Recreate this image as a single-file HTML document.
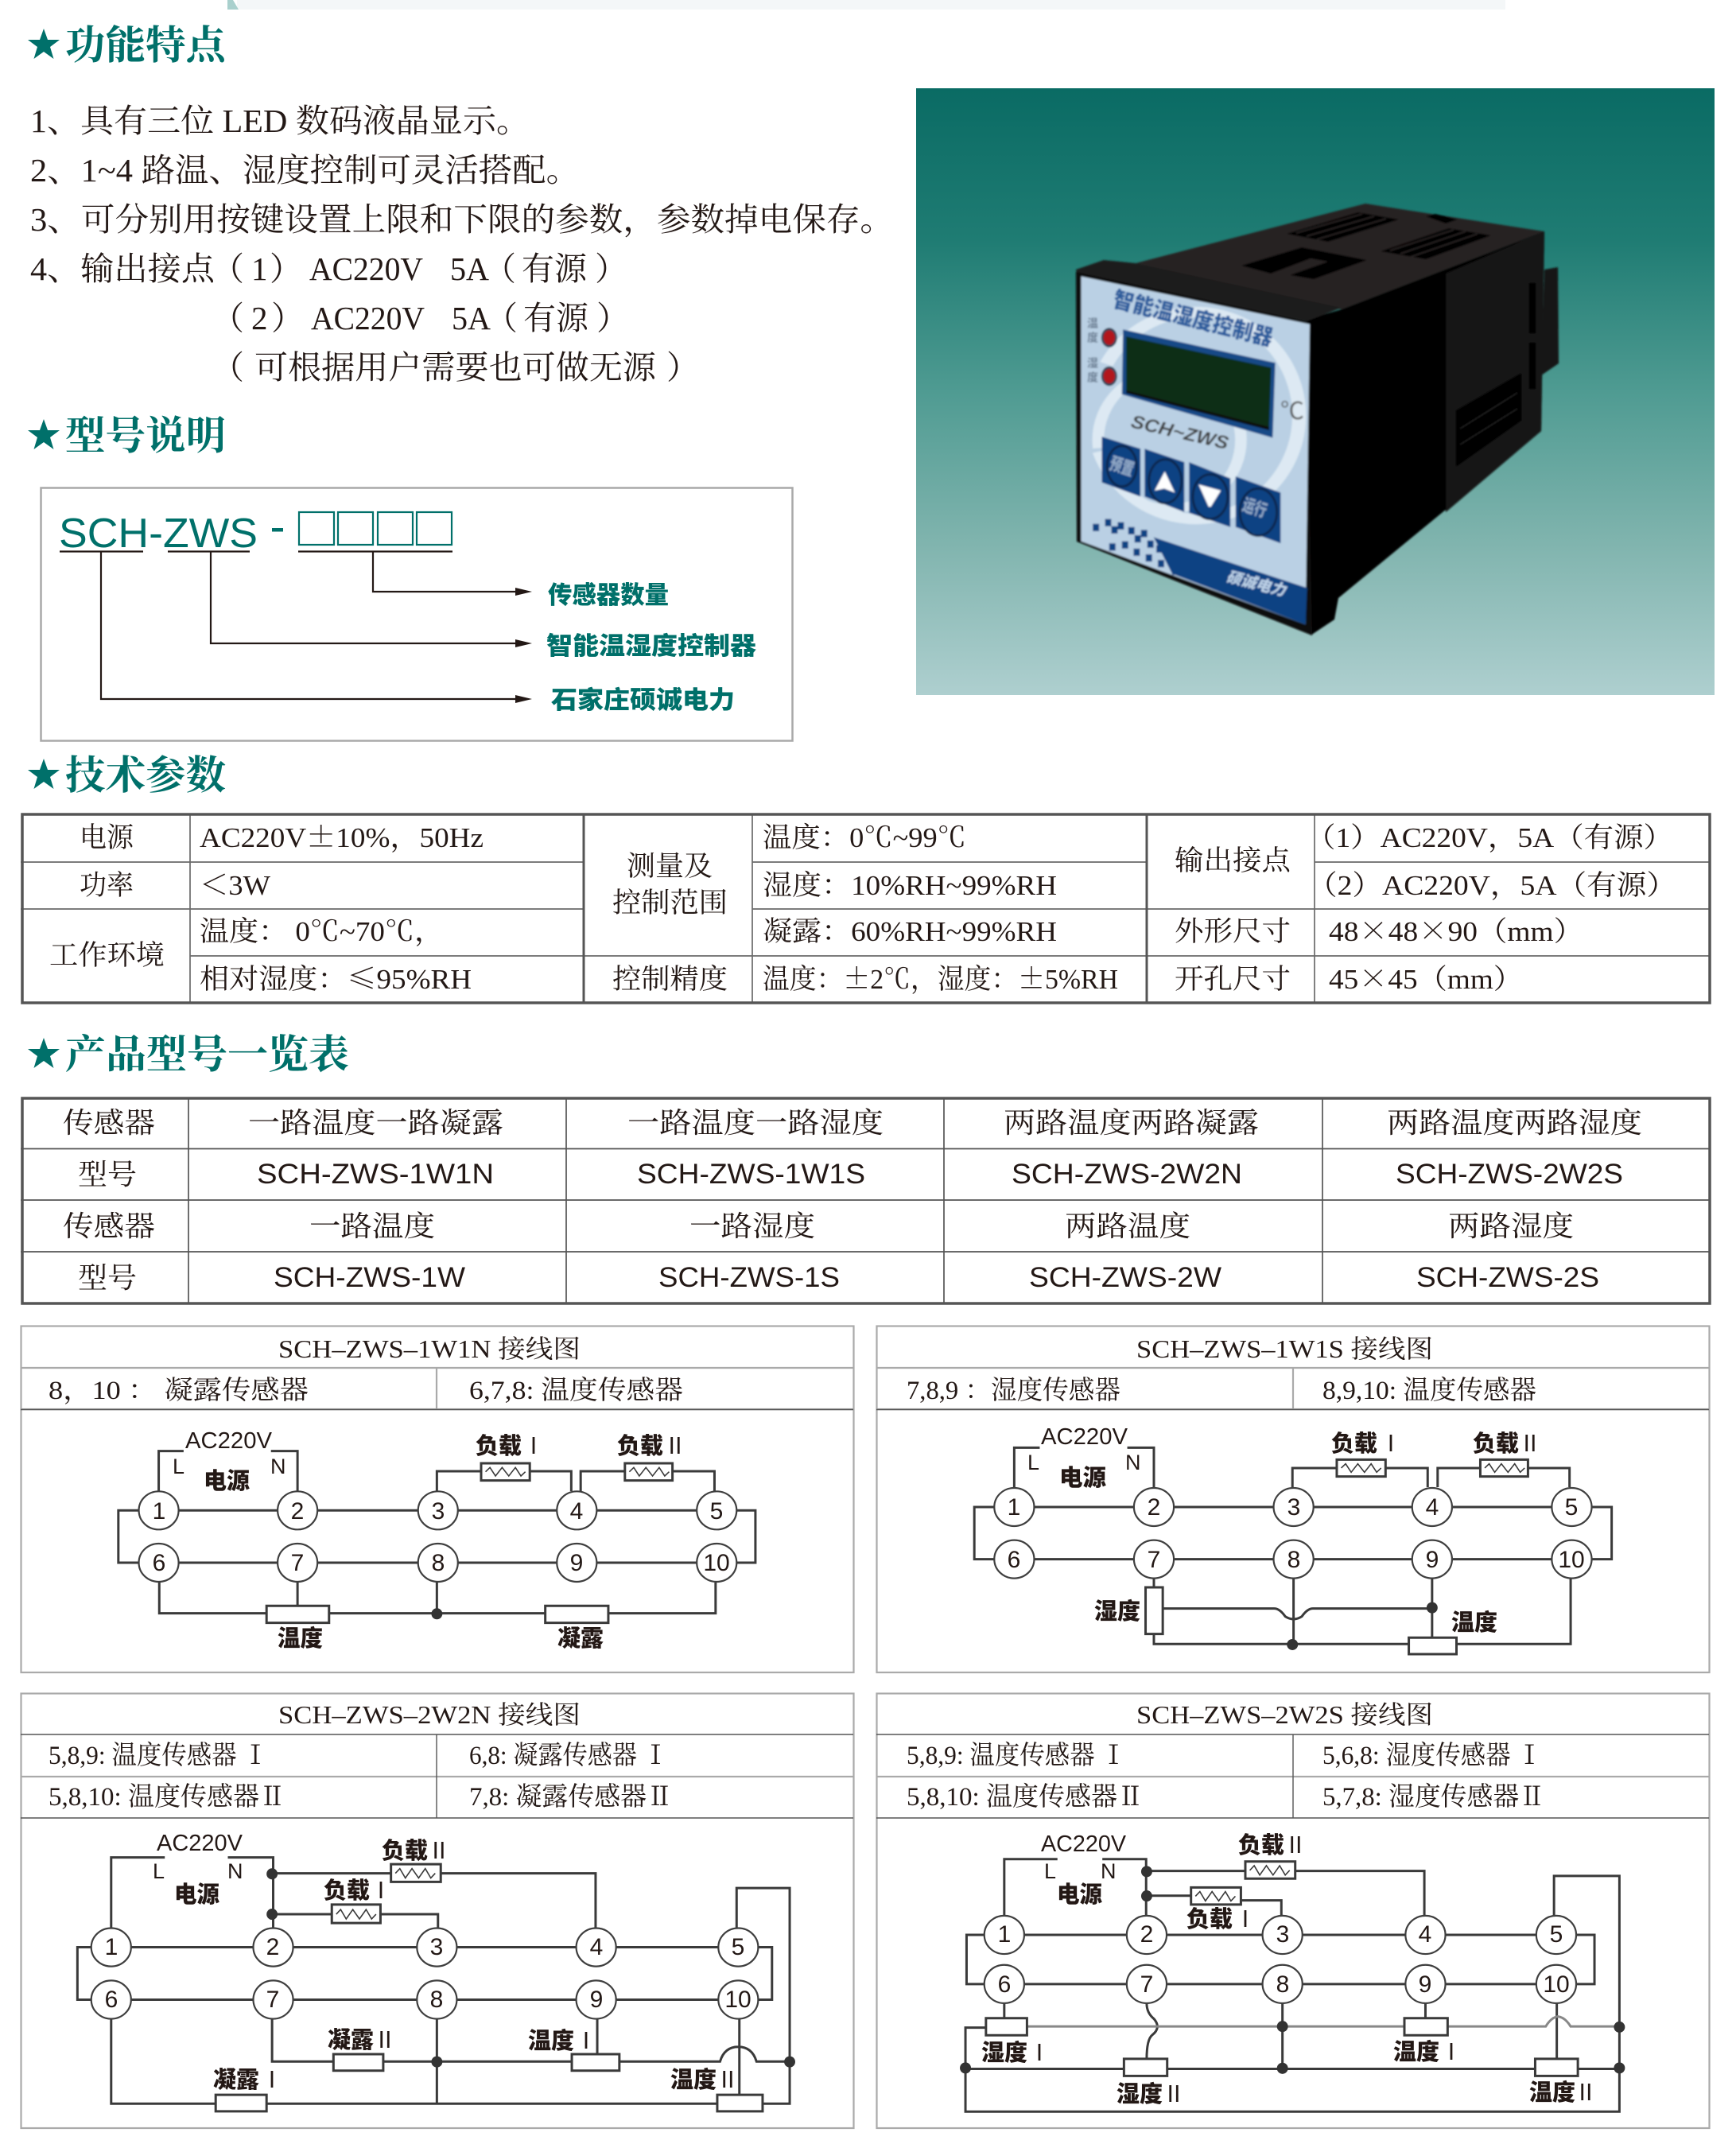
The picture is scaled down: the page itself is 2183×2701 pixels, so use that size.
<!DOCTYPE html>
<html lang="zh"><head><meta charset="utf-8"><title>SCH-ZWS</title>
<style>
html,body{margin:0;padding:0;background:#fff}
svg{display:block}
.s{font-family:"Liberation Serif","Noto Serif CJK SC",serif;fill:#231815}
.c{font-family:"Noto Serif CJK SC","Liberation Serif",serif}
.h{font-family:"Noto Serif CJK SC","Liberation Serif",serif;font-weight:700;fill:#00706a;font-size:50px}
.l{font-family:"Liberation Sans","Noto Sans CJK SC",sans-serif;fill:#231815}
.b{font-family:"Noto Sans CJK SC","Liberation Sans",sans-serif;font-weight:900;fill:#231815;font-size:29px}
.r{font-family:"Noto Sans CJK SC","Liberation Sans",sans-serif;font-weight:400;fill:#231815;font-size:29px;text-anchor:middle}
.g{font-family:"Noto Sans CJK SC","Liberation Sans",sans-serif;font-weight:900;fill:#00706a;font-size:31px}
.t{font-size:35px}.u{font-size:36px}.m{font-size:41px}.n{font-size:33px}.v{font-size:32px}
.w *{vector-effect:non-scaling-stroke}
.w path,.w polyline,.w line{fill:none;stroke:#3a3a3a;stroke-width:3}
.w rect{fill:#fff;stroke:#3a3a3a;stroke-width:3}
.w ellipse.o{fill:#fff;stroke:#3f3f3f;stroke-width:2.2}
.w ellipse.d{fill:#333;stroke:none}
.d{font-size:30px;text-anchor:middle}
</style></head><body>
<svg xmlns="http://www.w3.org/2000/svg" width="2183" height="2701" viewBox="0 0 2183 2701">
<defs>
<linearGradient id="bg" x1="0" y1="0" x2="0" y2="1"><stop offset="0" stop-color="#0a6b64"/><stop offset=".25" stop-color="#1f7c73"/><stop offset=".5" stop-color="#4f9b92"/><stop offset=".75" stop-color="#80b4ae"/><stop offset="1" stop-color="#aecfcf"/></linearGradient>
<filter id="bl" x="-5%" y="-5%" width="110%" height="110%"><feGaussianBlur stdDeviation="1.1"/></filter>
<polyline id="z" points="8,0 16,-16 26,16 38,-16 50,16 62,-16 72,16 80,0" style="stroke-width:1.6;fill:none;stroke:#3a3a3a" vector-effect="non-scaling-stroke"/>
<polygon id="st" points="0,-20 5,-6 20,-6 8,3 12.500,18 0,9 -12.500,18 -8,3 -20,-6 -5,-6" fill="#00706a"/>
</defs>
<rect width="2183" height="2701" fill="#fff"/>
<!-- top bar -->
<rect x="298" y="0" width="1595" height="12" fill="#f4f7f8"/>
<polygon points="286,0 293,0 300,12 286,12" fill="#a9d0cd"/>

<!-- headings -->
<use href="#st" x="55" y="56"/><text class="h" x="82" y="74" textLength="202" lengthAdjust="spacingAndGlyphs">功能特点</text>
<use href="#st" x="55" y="547"/><text class="h" x="82" y="565" textLength="202" lengthAdjust="spacingAndGlyphs">型号说明</text>
<use href="#st" x="55" y="974"/><text class="h" x="82" y="992" textLength="202" lengthAdjust="spacingAndGlyphs">技术参数</text>
<use href="#st" x="55" y="1325"/><text class="h" x="82" y="1343" textLength="357" lengthAdjust="spacingAndGlyphs">产品型号一览表</text>

<!-- feature list -->
<g class="s m">
<text x="38" y="166" textLength="628" lengthAdjust="spacingAndGlyphs">1、具有三位 LED 数码液晶显示。</text>
<text x="38" y="228" textLength="691" lengthAdjust="spacingAndGlyphs">2、1~4 路温、湿度控制可灵活搭配。</text>
<text x="38" y="290" textLength="1086" lengthAdjust="spacingAndGlyphs">3、可分别用按键设置上限和下限的参数，参数掉电保存。</text>
<text x="38" y="352" textLength="232" lengthAdjust="spacingAndGlyphs">4、输出接点</text>
<text x="266" y="352">（</text><text x="316" y="352">1</text><text x="339" y="352">）</text>
<text x="389" y="352" textLength="143" lengthAdjust="spacingAndGlyphs">AC220V</text>
<text x="566" y="352" textLength="49" lengthAdjust="spacingAndGlyphs">5A</text>
<text x="608" y="352">（</text><text x="656" y="352" textLength="82" lengthAdjust="spacingAndGlyphs">有源</text><text x="748" y="352">）</text>
<text x="266" y="414">（</text><text x="316" y="414">2</text><text x="341" y="414">）</text>
<text x="391" y="414" textLength="143" lengthAdjust="spacingAndGlyphs">AC220V</text>
<text x="568" y="414" textLength="49" lengthAdjust="spacingAndGlyphs">5A</text>
<text x="610" y="414">（</text><text x="658" y="414" textLength="82" lengthAdjust="spacingAndGlyphs">有源</text><text x="750" y="414">）</text>
<text x="266" y="476">（</text><text x="320" y="476" textLength="505" lengthAdjust="spacingAndGlyphs">可根据用户需要也可做无源</text><text x="838" y="476">）</text>
</g>

<!-- model box -->
<rect x="51.500" y="613.500" width="945" height="318" fill="#fff" stroke="#a9a9a9" stroke-width="2.500"/>
<text class="l" x="74" y="688" font-size="52" textLength="250" lengthAdjust="spacingAndGlyphs" style="fill:#00706a">SCH-ZWS</text>
<rect x="342" y="664" width="14" height="4.500" fill="#00706a"/>
<g fill="none" stroke="#00706a" stroke-width="2.200"><rect x="376" y="644" width="44" height="41"/><rect x="425" y="644" width="44" height="41"/><rect x="475" y="644" width="44" height="41"/><rect x="524" y="644" width="44" height="41"/></g>
<g fill="none" stroke="#231815" stroke-width="2.200">
<path d="M75 693.500H180M211 693.500H314M375 693.500H569"/>
<path d="M127 693V879H650M265 693V809H650M469 693V744H650"/>
</g>
<g fill="#231815"><polygon points="648,739 669,744 648,749"/><polygon points="648,804 669,809 648,814"/><polygon points="648,874 669,879 648,884"/></g>
<text class="g" x="689" y="759" textLength="152" lengthAdjust="spacingAndGlyphs">传感器数量</text>
<text class="g" x="687" y="823" textLength="264" lengthAdjust="spacingAndGlyphs">智能温湿度控制器</text>
<text class="g" x="693" y="891" textLength="231" lengthAdjust="spacingAndGlyphs">石家庄硕诚电力</text>

<!-- photo -->
<rect x="1152" y="111" width="1004" height="763" fill="url(#bg)"/>
<g filter="url(#bl)" transform="translate(-2,-1)">
<!-- body in real coordinates -->
<polygon points="1944,340 1961,337 1962,458 1940,473" fill="#161616"/>
<polygon points="1430,332 1719,257 1944,292 1689,390" fill="#272323"/>
<polygon points="1689,390 1944,292 1940,543 1685,753 1680,780 1650,800 1645,403" fill="#060404"/>
<polygon points="1820,345 1944,292 1940,543 1820,645" fill="#121212"/>
<polygon points="1833,517 1915,470 1915,530 1833,588" fill="#050505"/>
<path d="M1838,540 1910,495M1838,560 1910,515" stroke="#2a2a2a" stroke-width="1" fill="none"/>
<path d="M1929,357V420M1929,432V490" stroke="#000" stroke-width="8" fill="none"/>
<polygon points="1355,340 1390,328 1430,332 1689,388 1645,405 1356,345" fill="#1c1a1a"/>
<polygon points="1355,343 1645,405 1652,800 1356,682" fill="#0a0a0a"/>
<!-- top grates -->
<polygon points="1620,295 1710,268 1761,277 1672,305" fill="#060505"/>
<polygon points="1738,317 1824,288 1877,297 1795,327" fill="#060505"/>
<polygon points="1563,335 1639,312 1721,328 1654,352 1624,347 1672,330 1650,326 1600,345" fill="#060505"/>
<polygon points="1795,273 1807,270 1835,277 1820,282" fill="#060505"/>
<path d="M1632,294 1715,270M1645,298 1730,273M1658,302 1745,276M1750,316 1830,290M1763,320 1845,292M1776,324 1860,295" stroke="#2b2727" stroke-width="1.500" fill="none"/>
<g transform="translate(1140,100) scale(.6653,.5102)">
<polygon points="333,487 765,605 757,1345 333,1140" fill="#bad0e4"/>
<polygon points="470,1130 760,1255 757,1345 505,1220" fill="#0f4383"/>
<!-- swirl -->
<ellipse cx="550" cy="830" rx="195" ry="255" fill="none" stroke="#dde9f3" stroke-width="26" stroke-dasharray="620 220"/>
<ellipse cx="500" cy="890" rx="135" ry="170" fill="none" stroke="#dde9f3" stroke-width="22" stroke-dasharray="300 160"/>
<!-- LCD -->
<polygon points="412,618 700,700 695,885 410,778" fill="#164a87"/>
<polygon points="418,635 692,712 688,866 418,768" fill="#0f2e17"/>
<polygon points="418,768 688,858 688,866 418,775" fill="#0b0b0b"/>
<!-- LEDs -->
<ellipse cx="386" cy="638" rx="15" ry="24" fill="#2b3f55"/><ellipse cx="386" cy="638" rx="11" ry="18" fill="#b2161a"/>
<ellipse cx="386" cy="733" rx="15" ry="24" fill="#2b3f55"/><ellipse cx="386" cy="733" rx="11" ry="18" fill="#b2161a"/>
<!-- buttons -->
<polygon points="372,882 445,912 445,1030 372,995" fill="#0f4383"/>
<polygon points="453,912 528,945 528,1068 453,1030" fill="#0f4383"/>
<polygon points="537,945 615,985 615,1105 537,1070" fill="#0f4383"/>
<polygon points="625,980 710,1020 710,1145 625,1105" fill="#0f4383"/>
<ellipse cx="410" cy="955" rx="28" ry="50" fill="none" stroke="#08264e" stroke-width="3" vector-effect="non-scaling-stroke"/>
<ellipse cx="492" cy="992" rx="31" ry="54" fill="none" stroke="#08264e" stroke-width="3" vector-effect="non-scaling-stroke"/>
<ellipse cx="577" cy="1030" rx="33" ry="55" fill="none" stroke="#08264e" stroke-width="3" vector-effect="non-scaling-stroke"/>
<ellipse cx="668" cy="1068" rx="35" ry="58" fill="none" stroke="#08264e" stroke-width="3" vector-effect="non-scaling-stroke"/>
<polygon points="491,968 510,1020 490,1010 472,1015" fill="#fff"/>
<polygon points="555,1000 597,1015 578,1055 574,1055" fill="#fff"/>
<!-- checker -->
<g fill="#0f4383"><rect x="355" y="1097" width="12" height="18"/><rect x="378" y="1085" width="12" height="18"/><rect x="390" y="1103" width="12" height="18"/><rect x="402" y="1093" width="12" height="18"/><rect x="422" y="1105" width="12" height="18"/><rect x="434" y="1125" width="12" height="18"/><rect x="446" y="1112" width="12" height="18"/><rect x="458" y="1138" width="12" height="18"/><rect x="475" y="1150" width="12" height="18"/><rect x="490" y="1165" width="12" height="18"/><rect x="386" y="1145" width="12" height="18"/><rect x="410" y="1140" width="12" height="18"/><rect x="432" y="1158" width="12" height="18"/><rect x="455" y="1172" width="12" height="18"/><rect x="478" y="1186" width="12" height="18"/><rect x="505" y="1205" width="12" height="18"/></g>
</g>
<text class="b" transform="translate(1400,386) rotate(14)" textLength="206" lengthAdjust="spacingAndGlyphs" style="fill:#2a5c9c;font-size:28px">智能温湿度控制器</text>
<text class="l" transform="translate(1423,538) rotate(13)" font-size="23" font-style="italic" font-weight="700" textLength="125" lengthAdjust="spacingAndGlyphs" style="fill:#3c3c3c">SCH~ZWS</text>
<text class="l" x="1612" y="528" font-size="30" style="fill:#555">℃</text>
<text class="b" transform="translate(1543,732) rotate(14)" font-style="italic" textLength="76" lengthAdjust="spacingAndGlyphs" style="fill:#bcd0e6;font-size:19px">硕诚电力</text>
<text class="b" transform="translate(1396,590) rotate(18) scale(.8,1.15)" style="fill:#8fa6c4;font-size:19px">预置</text>
<text class="b" transform="translate(1563,642) rotate(18) scale(.8,1.15)" style="fill:#8fa6c4;font-size:19px">运行</text>
<text class="b" x="1376" y="400" style="writing-mode:vertical-rl;fill:#66798f;font-weight:700;font-size:14px;letter-spacing:4px">温度</text>
<text class="b" x="1376" y="450" style="writing-mode:vertical-rl;fill:#66798f;font-weight:700;font-size:14px;letter-spacing:4px">湿度</text>
</g>

<!-- table 1 -->
<g fill="none" stroke="#6a6a6a" stroke-width="1.700">
<path d="M26 1084H734M26 1143H734M239 1202H734M946 1084H1442M946 1143H2150M734 1202H2150M1653 1084H2150M239 1024V1261M946 1024V1261M1653 1024V1261"/>
</g>
<rect x="28" y="1024" width="2122" height="237" fill="none" stroke="#555" stroke-width="3.500"/>
<path d="M734 1024V1261M1442 1024V1261" stroke="#555" stroke-width="3" fill="none"/>
<g class="s t">
<text x="100" y="1065" textLength="68" lengthAdjust="spacingAndGlyphs">电源</text>
<text x="100" y="1125" textLength="68" lengthAdjust="spacingAndGlyphs">功率</text>
<text x="62" y="1213" textLength="145" lengthAdjust="spacingAndGlyphs">工作环境</text>
<text x="251" y="1065" textLength="357" lengthAdjust="spacingAndGlyphs">AC220V<tspan class="c">±</tspan>10%，50Hz</text>
<text x="251" y="1125" textLength="89" lengthAdjust="spacingAndGlyphs"><tspan class="c">＜</tspan>3W</text>
<text x="251" y="1183" textLength="307" lengthAdjust="spacingAndGlyphs">温度： 0℃~70℃，</text>
<text x="251" y="1243" textLength="342" lengthAdjust="spacingAndGlyphs">相对湿度：<tspan class="c">≤</tspan>95%RH</text>
<text x="788" y="1101" textLength="108" lengthAdjust="spacingAndGlyphs">测量及</text>
<text x="770" y="1147" textLength="145" lengthAdjust="spacingAndGlyphs">控制范围</text>
<text x="770" y="1243" textLength="145" lengthAdjust="spacingAndGlyphs">控制精度</text>
<text x="959" y="1065" textLength="256" lengthAdjust="spacingAndGlyphs">温度：0℃~99℃</text>
<text x="959" y="1125" textLength="370" lengthAdjust="spacingAndGlyphs">湿度：10%RH~99%RH</text>
<text x="959" y="1183" textLength="370" lengthAdjust="spacingAndGlyphs">凝露：60%RH~99%RH</text>
<text x="959" y="1243" textLength="447" lengthAdjust="spacingAndGlyphs">温度：<tspan class="c">±</tspan>2℃，湿度：<tspan class="c">±</tspan>5%RH</text>
<text x="1477" y="1094" textLength="146" lengthAdjust="spacingAndGlyphs">输出接点</text>
<text x="1642" y="1065" textLength="462" lengthAdjust="spacingAndGlyphs">（1）AC220V，5A（有源）</text>
<text x="1644" y="1125" textLength="464" lengthAdjust="spacingAndGlyphs">（2）AC220V，5A（有源）</text>
<text x="1477" y="1183" textLength="146" lengthAdjust="spacingAndGlyphs">外形尺寸</text>
<text x="1671" y="1183" textLength="320" lengthAdjust="spacingAndGlyphs">48<tspan class="c">×</tspan>48<tspan class="c">×</tspan>90（mm）</text>
<text x="1477" y="1243" textLength="146" lengthAdjust="spacingAndGlyphs">开孔尺寸</text>
<text x="1671" y="1243" textLength="244" lengthAdjust="spacingAndGlyphs">45<tspan class="c">×</tspan>45（mm）</text>
</g>

<!-- table 2 -->
<g fill="none" stroke="#555" stroke-width="1.700">
<path d="M26 1444.500H2150M26 1509H2150M26 1574H2150M237 1380V1639M712 1380V1639M1187 1380V1639M1663 1380V1639"/>
</g>
<rect x="28" y="1381" width="2122" height="258" fill="none" stroke="#555" stroke-width="3.500"/>
<g class="s u">
<text x="79" y="1424" textLength="116" lengthAdjust="spacingAndGlyphs">传感器</text>
<text x="312" y="1424" textLength="321" lengthAdjust="spacingAndGlyphs">一路温度一路凝露</text>
<text x="789" y="1424" textLength="322" lengthAdjust="spacingAndGlyphs">一路温度一路湿度</text>
<text x="1262" y="1424" textLength="321" lengthAdjust="spacingAndGlyphs">两路温度两路凝露</text>
<text x="1744" y="1424" textLength="321" lengthAdjust="spacingAndGlyphs">两路温度两路湿度</text>
<text x="98" y="1489" textLength="74" lengthAdjust="spacingAndGlyphs">型号</text>
<text x="79" y="1554" textLength="116" lengthAdjust="spacingAndGlyphs">传感器</text>
<text x="389" y="1554" textLength="158" lengthAdjust="spacingAndGlyphs">一路温度</text>
<text x="867" y="1554" textLength="158" lengthAdjust="spacingAndGlyphs">一路湿度</text>
<text x="1339" y="1554" textLength="158" lengthAdjust="spacingAndGlyphs">两路温度</text>
<text x="1821" y="1554" textLength="158" lengthAdjust="spacingAndGlyphs">两路湿度</text>
<text x="98" y="1619" textLength="74" lengthAdjust="spacingAndGlyphs">型号</text>
</g>
<g class="l" font-size="35">
<text x="323" y="1488" textLength="298" lengthAdjust="spacingAndGlyphs">SCH-ZWS-1W1N</text>
<text x="801" y="1488" textLength="287" lengthAdjust="spacingAndGlyphs">SCH-ZWS-1W1S</text>
<text x="1272" y="1488" textLength="290" lengthAdjust="spacingAndGlyphs">SCH-ZWS-2W2N</text>
<text x="1755" y="1488" textLength="286" lengthAdjust="spacingAndGlyphs">SCH-ZWS-2W2S</text>
<text x="344" y="1618" textLength="241" lengthAdjust="spacingAndGlyphs">SCH-ZWS-1W</text>
<text x="828" y="1618" textLength="228" lengthAdjust="spacingAndGlyphs">SCH-ZWS-1S</text>
<text x="1294" y="1618" textLength="242" lengthAdjust="spacingAndGlyphs">SCH-ZWS-2W</text>
<text x="1781" y="1618" textLength="230" lengthAdjust="spacingAndGlyphs">SCH-ZWS-2S</text>
</g>

<!-- frames diagram 1,2 -->
<g fill="none" stroke="#aaa" stroke-width="2.200">
<rect x="26.500" y="1667.500" width="1047" height="435.500"/>
<rect x="1102.500" y="1667.500" width="1047" height="435.500"/>
<rect x="26.500" y="2129.500" width="1047" height="546.500"/>
<rect x="1102.500" y="2129.500" width="1047" height="546.500"/>
<path d="M26 1720H1073M26 1772H1073M1102 1720H2149M1102 1772H2149M549 1720V1772M1626 1720V1772M26 2234H1073M1102 2234H2149"/>
</g>
<g fill="none" stroke="#555" stroke-width="1.400">
<path d="M26 1772.500H1073M1102 1772.500H2149M26 2181H1073M1102 2181H2149M26 2286H1073M1102 2286H2149M549 2181V2286M1626 2181V2286"/>
</g>

<!-- diagram texts -->
<g class="s v">
<text x="350" y="1707" textLength="380" lengthAdjust="spacingAndGlyphs">SCH–ZWS–1W1N 接线图</text>
<text x="1429" y="1707" textLength="373" lengthAdjust="spacingAndGlyphs">SCH–ZWS–1W1S 接线图</text>
<text x="350" y="2167" textLength="380" lengthAdjust="spacingAndGlyphs">SCH–ZWS–2W2N 接线图</text>
<text x="1429" y="2167" textLength="373" lengthAdjust="spacingAndGlyphs">SCH–ZWS–2W2S 接线图</text>
</g>
<g class="s n">
<text x="61" y="1759" textLength="327" lengthAdjust="spacingAndGlyphs">8，10 ： 凝露传感器</text>
<text x="590" y="1759" textLength="269" lengthAdjust="spacingAndGlyphs">6,7,8: 温度传感器</text>
<text x="1140" y="1759" textLength="269" lengthAdjust="spacingAndGlyphs">7,8,9 ：湿度传感器</text>
<text x="1663" y="1759" textLength="269" lengthAdjust="spacingAndGlyphs">8,9,10: 温度传感器</text>
<text x="61" y="2218" textLength="276" lengthAdjust="spacingAndGlyphs">5,8,9: 温度传感器 Ⅰ</text>
<text x="590" y="2218" textLength="250" lengthAdjust="spacingAndGlyphs">6,8: 凝露传感器 Ⅰ</text>
<text x="61" y="2270" textLength="298" lengthAdjust="spacingAndGlyphs">5,8,10: 温度传感器Ⅱ</text>
<text x="590" y="2270" textLength="256" lengthAdjust="spacingAndGlyphs">7,8: 凝露传感器Ⅱ</text>
<text x="1140" y="2218" textLength="276" lengthAdjust="spacingAndGlyphs">5,8,9: 温度传感器 Ⅰ</text>
<text x="1663" y="2218" textLength="276" lengthAdjust="spacingAndGlyphs">5,6,8: 湿度传感器 Ⅰ</text>
<text x="1140" y="2270" textLength="298" lengthAdjust="spacingAndGlyphs">5,8,10: 温度传感器Ⅱ</text>
<text x="1663" y="2270" textLength="280" lengthAdjust="spacingAndGlyphs">5,7,8: 湿度传感器Ⅱ</text>
</g>

<!-- D1 wiring -->
<g class="w" transform="translate(0,1660) scale(.6954,.3333)">
<path d="M287 645V494H332M490 494H538V645"/>
<path d="M214 718H1366V915H214ZM790 645V570H1033V645M1050 645V570H1292V645"/>
<path d="M288 990V1106H1294V990M538 990V1078M790 990V1106"/>
<rect x="870" y="540" width="88" height="65"/><use href="#z" x="870" y="572"/>
<rect x="1130" y="540" width="86" height="65"/><use href="#z" x="1130" y="572"/>
<rect x="482" y="1078" width="113" height="64"/><rect x="986" y="1078" width="114" height="64"/>
<ellipse class="d" cx="790" cy="1108" rx="10" ry="21"/>
<ellipse class="o" cx="287" cy="718" rx="36" ry="72"/><ellipse class="o" cx="538" cy="718" rx="36" ry="72"/><ellipse class="o" cx="792" cy="718" rx="36" ry="72"/><ellipse class="o" cx="1043" cy="718" rx="36" ry="72"/><ellipse class="o" cx="1296" cy="718" rx="36" ry="72"/>
<ellipse class="o" cx="287" cy="915" rx="36" ry="72"/><ellipse class="o" cx="538" cy="915" rx="36" ry="72"/><ellipse class="o" cx="792" cy="915" rx="36" ry="72"/><ellipse class="o" cx="1043" cy="915" rx="36" ry="72"/><ellipse class="o" cx="1296" cy="915" rx="36" ry="72"/>
</g>
<g class="l d">
<text x="200" y="1910">1</text><text x="374" y="1910">2</text><text x="551" y="1910">3</text><text x="725" y="1910">4</text><text x="901" y="1910">5</text>
<text x="200" y="1975">6</text><text x="374" y="1975">7</text><text x="551" y="1975">8</text><text x="725" y="1975">9</text><text x="901" y="1975">10</text>
</g>
<text class="l" x="233" y="1821" font-size="29" textLength="109" lengthAdjust="spacingAndGlyphs">AC220V</text>
<text class="l" x="217" y="1853" font-size="27">L</text><text class="l" x="340" y="1853" font-size="27">N</text>
<text class="b" x="256" y="1872" textLength="58" lengthAdjust="spacingAndGlyphs">电源</text>
<text class="b" x="598" y="1828" textLength="58" lengthAdjust="spacingAndGlyphs">负载</text><text class="r" x="671" y="1828">Ⅰ</text>
<text class="b" x="776" y="1828" textLength="58" lengthAdjust="spacingAndGlyphs">负载</text><text class="r" x="849" y="1828">Ⅱ</text>
<text class="b" x="349" y="2070" textLength="57" lengthAdjust="spacingAndGlyphs">温度</text>
<text class="b" x="701" y="2070" textLength="58" lengthAdjust="spacingAndGlyphs">凝露</text>

<!-- D2 wiring -->
<g class="w" transform="translate(1090,1660) scale(.6969,.3333)">
<path d="M266 630V481H312M470 481H518V630"/>
<path d="M194 705H1344V902H194ZM768 630V558H1012V630M1030 630V558H1268V630"/>
<path d="M518 975V1008M518 1184V1222H978M1064 1222H1270V975M770 975V1222M1020 975V1198"/>
<path d="M534 1088H735Q745 1088 755 1118Q770 1138 785 1118Q795 1088 805 1088H1020"/>
<rect x="503" y="1008" width="31" height="176"/>
<rect x="978" y="1198" width="86" height="62"/>
<rect x="848" y="526" width="88" height="64"/><use href="#z" x="848" y="558"/>
<rect x="1107" y="526" width="86" height="64"/><use href="#z" x="1107" y="558"/>
<ellipse class="d" cx="768" cy="1224" rx="10" ry="21"/><ellipse class="d" cx="1020" cy="1085" rx="10" ry="21"/>
<ellipse class="o" cx="266" cy="705" rx="36" ry="72"/><ellipse class="o" cx="518" cy="705" rx="36" ry="72"/><ellipse class="o" cx="770" cy="705" rx="36" ry="72"/><ellipse class="o" cx="1020" cy="705" rx="36" ry="72"/><ellipse class="o" cx="1272" cy="705" rx="36" ry="72"/>
<ellipse class="o" cx="266" cy="902" rx="36" ry="72"/><ellipse class="o" cx="518" cy="902" rx="36" ry="72"/><ellipse class="o" cx="770" cy="902" rx="36" ry="72"/><ellipse class="o" cx="1020" cy="902" rx="36" ry="72"/><ellipse class="o" cx="1272" cy="902" rx="36" ry="72"/>
</g>
<g class="l d">
<text x="1275" y="1905">1</text><text x="1451" y="1905">2</text><text x="1627" y="1905">3</text><text x="1801" y="1905">4</text><text x="1976" y="1905">5</text>
<text x="1275" y="1971">6</text><text x="1451" y="1971">7</text><text x="1627" y="1971">8</text><text x="1801" y="1971">9</text><text x="1976" y="1971">10</text>
</g>
<text class="l" x="1309" y="1816" font-size="29" textLength="109" lengthAdjust="spacingAndGlyphs">AC220V</text>
<text class="l" x="1292" y="1848" font-size="27">L</text><text class="l" x="1415" y="1848" font-size="27">N</text>
<text class="b" x="1332" y="1868" textLength="59" lengthAdjust="spacingAndGlyphs">电源</text>
<text class="b" x="1674" y="1825" textLength="58" lengthAdjust="spacingAndGlyphs">负载</text><text class="r" x="1749" y="1825">Ⅰ</text>
<text class="b" x="1852" y="1825" textLength="58" lengthAdjust="spacingAndGlyphs">负载</text><text class="r" x="1924" y="1825">Ⅱ</text>
<text class="b" x="1376" y="2036" textLength="58" lengthAdjust="spacingAndGlyphs">湿度</text>
<text class="b" x="1825" y="2050" textLength="58" lengthAdjust="spacingAndGlyphs">温度</text>

<!-- D3 wiring -->
<g class="w" transform="translate(0,2120) scale(.6954,.3704)">
<path d="M201 828V582H298M412 582H494V828M492 636H1077V828M492 775H792V828"/>
<path d="M140 887H1396V1065H140Z"/>
<path d="M1332 828V686H1428V1418H201V1130M492 1130V1275H1302Q1310 1225 1335 1225Q1360 1225 1368 1275H1428M790 1130V1418M1080 1130V1250M1337 1130V1388"/>
<rect x="707" y="605" width="90" height="60"/><use href="#z" x="707" y="636"/>
<rect x="600" y="742" width="88" height="63"/><use href="#z" x="600" y="775"/>
<rect x="603" y="1250" width="90" height="56"/><rect x="1034" y="1250" width="86" height="56"/>
<rect x="390" y="1388" width="92" height="56"/><rect x="1297" y="1388" width="82" height="56"/>
<ellipse class="d" cx="492" cy="638" rx="10" ry="19"/><ellipse class="d" cx="492" cy="775" rx="10" ry="19"/><ellipse class="d" cx="790" cy="1276" rx="10" ry="19"/><ellipse class="d" cx="1428" cy="1276" rx="10" ry="19"/>
<ellipse class="o" cx="201" cy="887" rx="36" ry="65"/><ellipse class="o" cx="494" cy="887" rx="36" ry="65"/><ellipse class="o" cx="790" cy="887" rx="36" ry="65"/><ellipse class="o" cx="1078" cy="887" rx="36" ry="65"/><ellipse class="o" cx="1335" cy="887" rx="36" ry="65"/>
<ellipse class="o" cx="201" cy="1065" rx="36" ry="65"/><ellipse class="o" cx="494" cy="1065" rx="36" ry="65"/><ellipse class="o" cx="790" cy="1065" rx="36" ry="65"/><ellipse class="o" cx="1078" cy="1065" rx="36" ry="65"/><ellipse class="o" cx="1335" cy="1065" rx="36" ry="65"/>
</g>
<g class="l d">
<text x="140" y="2458">1</text><text x="343" y="2458">2</text><text x="549" y="2458">3</text><text x="750" y="2458">4</text><text x="928" y="2458">5</text>
<text x="140" y="2524">6</text><text x="343" y="2524">7</text><text x="549" y="2524">8</text><text x="750" y="2524">9</text><text x="928" y="2524">10</text>
</g>
<text class="l" x="197" y="2327" font-size="29" textLength="108" lengthAdjust="spacingAndGlyphs">AC220V</text>
<text class="l" x="192" y="2362" font-size="27">L</text><text class="l" x="286" y="2362" font-size="27">N</text>
<text class="b" x="219" y="2392" textLength="57" lengthAdjust="spacingAndGlyphs">电源</text>
<text class="b" x="480" y="2337" textLength="58" lengthAdjust="spacingAndGlyphs">负载</text><text class="r" x="552" y="2337">Ⅱ</text>
<text class="b" x="407" y="2387" textLength="58" lengthAdjust="spacingAndGlyphs">负载</text><text class="r" x="479" y="2387">Ⅰ</text>
<text class="b" x="412" y="2575" textLength="58" lengthAdjust="spacingAndGlyphs">凝露</text><text class="r" x="484" y="2575">Ⅱ</text>
<text class="b" x="664" y="2576" textLength="58" lengthAdjust="spacingAndGlyphs">温度</text><text class="r" x="737" y="2576">Ⅰ</text>
<text class="b" x="268" y="2625" textLength="58" lengthAdjust="spacingAndGlyphs">凝露</text><text class="r" x="342" y="2625">Ⅰ</text>
<text class="b" x="843" y="2625" textLength="58" lengthAdjust="spacingAndGlyphs">温度</text><text class="r" x="915" y="2625">Ⅱ</text>

<!-- D4 wiring -->
<g class="w" transform="translate(1090,2120) scale(.6969,.3704)">
<path d="M248 780V588H344M425 588H504V780M505 628H1006V780M505 712H585M675 728H748V780"/>
<path d="M180 845H1313V1012H180Z"/>
<path d="M1240 780V645H1358V1445H178V1160H215M178 1300H1358"/>
<path d="M248 1078V1128M505 1078Q505 1110 518 1130Q532 1160 515 1185Q505 1200 505 1266M750 1078V1300M1008 1078V1128M1245 1078V1266"/>
<path d="M290 1156H1225Q1235 1125 1247 1122Q1260 1125 1270 1156H1358" style="stroke:#888;stroke-width:3"/>
<rect x="683" y="596" width="90" height="58"/><use href="#z" x="683" y="626"/>
<rect x="585" y="684" width="90" height="58"/><use href="#z" x="585" y="714"/>
<rect x="215" y="1128" width="74" height="58"/><rect x="970" y="1128" width="78" height="58"/>
<rect x="464" y="1266" width="78" height="58"/><rect x="1206" y="1266" width="77" height="58"/>
<ellipse class="d" cx="505" cy="630" rx="10" ry="19"/><ellipse class="d" cx="505" cy="713" rx="10" ry="19"/><ellipse class="d" cx="750" cy="1156" rx="10" ry="19"/><ellipse class="d" cx="750" cy="1298" rx="10" ry="19"/><ellipse class="d" cx="1358" cy="1158" rx="10" ry="19"/><ellipse class="d" cx="1358" cy="1297" rx="10" ry="19"/><ellipse class="d" cx="178" cy="1297" rx="10" ry="19"/>
<ellipse class="o" cx="248" cy="845" rx="36" ry="65"/><ellipse class="o" cx="505" cy="845" rx="36" ry="65"/><ellipse class="o" cx="750" cy="845" rx="36" ry="65"/><ellipse class="o" cx="1008" cy="845" rx="36" ry="65"/><ellipse class="o" cx="1244" cy="845" rx="36" ry="65"/>
<ellipse class="o" cx="248" cy="1012" rx="36" ry="65"/><ellipse class="o" cx="505" cy="1012" rx="36" ry="65"/><ellipse class="o" cx="750" cy="1012" rx="36" ry="65"/><ellipse class="o" cx="1008" cy="1012" rx="36" ry="65"/><ellipse class="o" cx="1244" cy="1012" rx="36" ry="65"/>
</g>
<g class="l d">
<text x="1263" y="2442">1</text><text x="1442" y="2442">2</text><text x="1613" y="2442">3</text><text x="1792" y="2442">4</text><text x="1957" y="2442">5</text>
<text x="1263" y="2505">6</text><text x="1442" y="2505">7</text><text x="1613" y="2505">8</text><text x="1792" y="2505">9</text><text x="1957" y="2505">10</text>
</g>
<text class="l" x="1309" y="2328" font-size="29" textLength="107" lengthAdjust="spacingAndGlyphs">AC220V</text>
<text class="l" x="1313" y="2362" font-size="27">L</text><text class="l" x="1384" y="2362" font-size="27">N</text>
<text class="b" x="1329" y="2392" textLength="57" lengthAdjust="spacingAndGlyphs">电源</text>
<text class="b" x="1557" y="2330" textLength="58" lengthAdjust="spacingAndGlyphs">负载</text><text class="r" x="1629" y="2330">Ⅱ</text>
<text class="b" x="1492" y="2423" textLength="58" lengthAdjust="spacingAndGlyphs">负载</text><text class="r" x="1566" y="2423">Ⅰ</text>
<text class="b" x="1234" y="2591" textLength="58" lengthAdjust="spacingAndGlyphs">湿度</text><text class="r" x="1307" y="2591">Ⅰ</text>
<text class="b" x="1752" y="2590" textLength="58" lengthAdjust="spacingAndGlyphs">温度</text><text class="r" x="1825" y="2590">Ⅰ</text>
<text class="b" x="1404" y="2643" textLength="58" lengthAdjust="spacingAndGlyphs">湿度</text><text class="r" x="1476" y="2643">Ⅱ</text>
<text class="b" x="1923" y="2641" textLength="58" lengthAdjust="spacingAndGlyphs">温度</text><text class="r" x="1994" y="2641">Ⅱ</text>
</svg>
</body></html>
